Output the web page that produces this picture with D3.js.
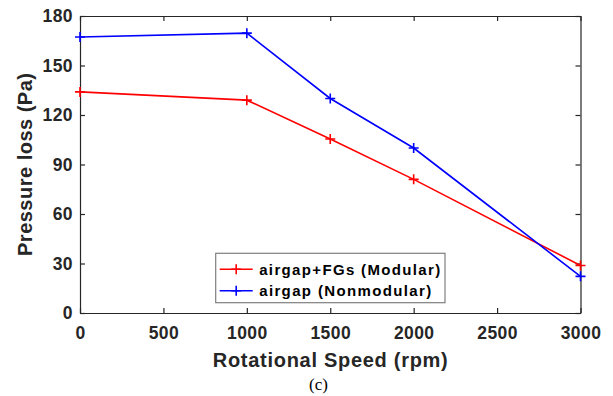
<!DOCTYPE html>
<html>
<head>
<meta charset="utf-8">
<script src="https://cdn.jsdelivr.net/npm/d3@7"></script>
<style>
  body { margin: 0; background: #fff; }
  svg { display: block; }
</style>
</head>
<body>
<svg id="chart" width="613" height="396"></svg>
<script>
// data
const speeds = [0, 1000, 1500, 2000, 3000];
const modular = [134, 129, 105.5, 81, 28.8];
const nonmodular = [167.3, 169.6, 130, 100, 22.2];
const xTicks = [0, 500, 1000, 1500, 2000, 2500, 3000];
const yTicks = [0, 30, 60, 90, 120, 150, 180];
const seriesNames = ['airgap+FGs (Modular)', 'airgap (Nonmodular)'];
const seriesColors = ['#ff0000', '#0000ff'];

const margin = {top: 16, left: 80, right: 32.5, bottom: 83};
const width = 613, height = 396;
const plotW = width - margin.left - margin.right;
const plotH = height - margin.top - margin.bottom;

const svg = d3.select('#chart');
const g = svg.append('g').attr('transform', `translate(${margin.left},${margin.top})`);

const x = d3.scaleLinear().domain([0, 3000]).range([0, plotW]);
const y = d3.scaleLinear().domain([0, 180]).range([plotH, 0]);

const axisColor = '#262626';
const font = '"Liberation Sans", Arial, sans-serif';

// box + inward ticks
function styleAxis(sel) {
  sel.select('.domain').attr('stroke', axisColor).attr('stroke-width', 1.2);
  sel.selectAll('.tick line').attr('stroke', axisColor).attr('stroke-width', 1.2);
  sel.selectAll('text').attr('fill', axisColor).attr('font-family', font)
    .attr('font-weight', 'bold').attr('font-size', 17.5).attr('letter-spacing', 0.4);
}

g.append('g').attr('transform', `translate(0,${plotH})`)
  .call(d3.axisBottom(x).tickValues(xTicks).tickFormat(d3.format('d'))
    .tickSizeInner(-5).tickSizeOuter(0).tickPadding(13.5))
  .call(styleAxis);
g.append('g')
  .call(d3.axisLeft(y).tickValues(yTicks).tickFormat(d3.format('d'))
    .tickSizeInner(-5).tickSizeOuter(0).tickPadding(7))
  .call(styleAxis);
g.append('g')
  .call(d3.axisTop(x).tickValues(xTicks).tickSizeInner(-5).tickSizeOuter(0).tickFormat(''))
  .call(styleAxis);
g.append('g').attr('transform', `translate(${plotW},0)`)
  .call(d3.axisRight(y).tickValues(yTicks).tickSizeInner(-5).tickSizeOuter(0).tickFormat(''))
  .call(styleAxis);

// lines with plus markers
const series = [modular, nonmodular];
const line = d3.line().x((d, i) => x(speeds[i])).y(d => y(d));
const plusPath = s => `M${-s},0H${s}M0,${-s}V${s}`;

series.forEach((vals, k) => {
  g.append('path').datum(vals)
    .attr('d', line)
    .attr('fill', 'none')
    .attr('stroke', seriesColors[k])
    .attr('stroke-width', 1.6);
  g.selectAll(null).data(vals).enter().append('path')
    .attr('transform', (d, i) => `translate(${x(speeds[i])},${y(d)})`)
    .attr('d', plusPath(5))
    .attr('stroke', seriesColors[k])
    .attr('stroke-width', 1.6)
    .attr('fill', 'none');
});

// legend
const legend = g.append('g').attr('transform', 'translate(135.7,237.3)');
legend.append('rect')
  .attr('width', 229.3).attr('height', 49.4)
  .attr('fill', '#fff').attr('stroke', '#7f7f7f').attr('stroke-width', 1.2);
const legendWidths = [181, 172];
seriesNames.forEach((name, k) => {
  const yy = 16 + k * 21.5;
  legend.append('line').attr('x1', 4).attr('x2', 37).attr('y1', yy).attr('y2', yy)
    .attr('stroke', seriesColors[k]).attr('stroke-width', 1.6);
  legend.append('path').attr('transform', `translate(20.5,${yy})`).attr('d', plusPath(5))
    .attr('stroke', seriesColors[k]).attr('stroke-width', 1.6);
  legend.append('text').attr('x', 43.5).attr('y', yy).attr('dy', '0.36em')
    .attr('font-family', font).attr('font-weight', 'bold').attr('font-size', 15)
    .attr('textLength', legendWidths[k]).attr('lengthAdjust', 'spacing')
    .attr('fill', '#000').text(name);
});

// axis titles
svg.append('text')
  .attr('x', margin.left + plotW / 2).attr('y', 367)
  .attr('text-anchor', 'middle')
  .attr('font-family', font).attr('font-weight', 'bold').attr('font-size', 20)
  .attr('textLength', 235).attr('lengthAdjust', 'spacing')
  .attr('fill', axisColor).text('Rotational Speed (rpm)');
svg.append('text')
  .attr('transform', `translate(32,${margin.top + plotH / 2}) rotate(-90)`)
  .attr('text-anchor', 'middle')
  .attr('font-family', font).attr('font-weight', 'bold').attr('font-size', 20)
  .attr('textLength', 183).attr('lengthAdjust', 'spacing')
  .attr('fill', axisColor).text('Pressure loss (Pa)');

svg.append('text')
  .attr('x', 318.5).attr('y', 390)
  .attr('text-anchor', 'middle')
  .attr('font-family', '"Liberation Serif", "Times New Roman", serif').attr('font-size', 17)
  .attr('fill', '#000').text('(c)');
</script>
</body>
</html>
